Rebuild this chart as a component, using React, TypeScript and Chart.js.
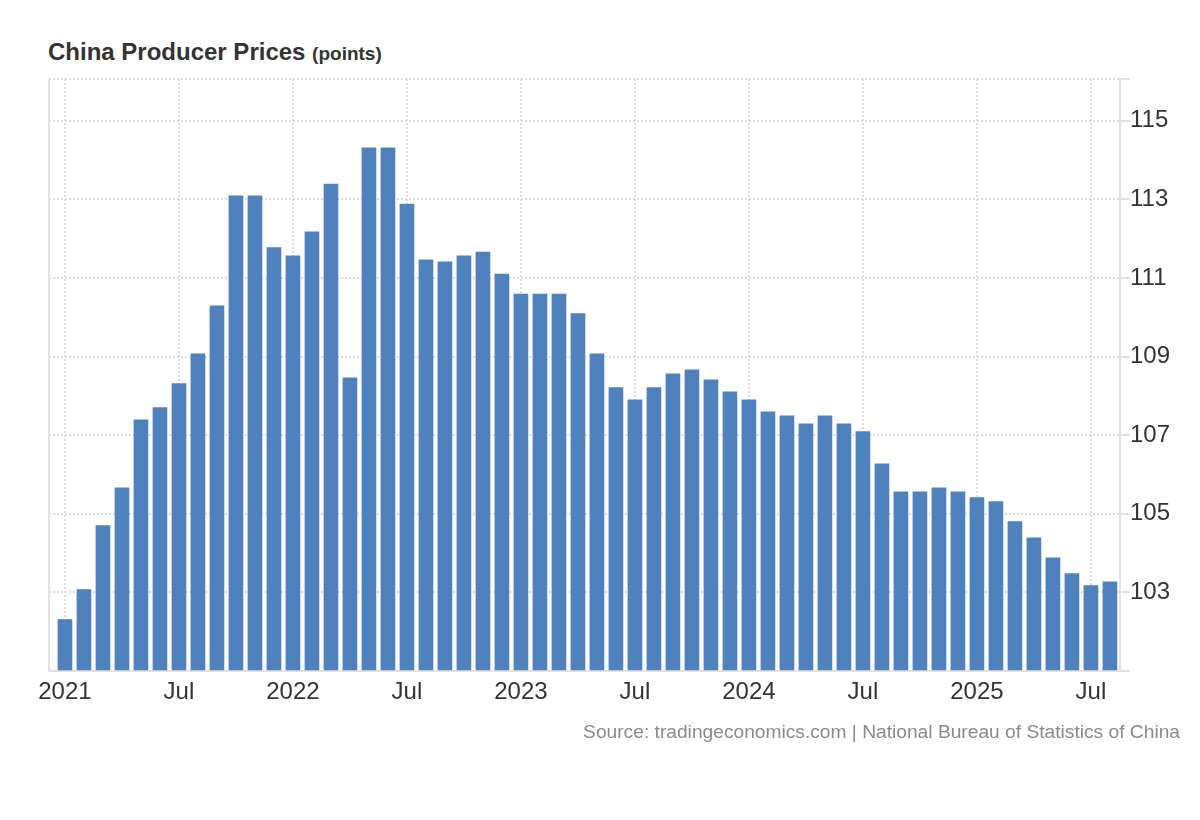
import React, { useEffect, useRef } from 'react';
import { Chart, registerables } from 'chart.js';

Chart.register(...registerables);

const months = [
  'Jan 2021', 'Feb 2021', 'Mar 2021', 'Apr 2021', 'May 2021', 'Jun 2021',
  'Jul 2021', 'Aug 2021', 'Sep 2021', 'Oct 2021', 'Nov 2021', 'Dec 2021',
  'Jan 2022', 'Feb 2022', 'Mar 2022', 'Apr 2022', 'May 2022', 'Jun 2022',
  'Jul 2022', 'Aug 2022', 'Sep 2022', 'Oct 2022', 'Nov 2022', 'Dec 2022',
  'Jan 2023', 'Feb 2023', 'Mar 2023', 'Apr 2023', 'May 2023', 'Jun 2023',
  'Jul 2023', 'Aug 2023', 'Sep 2023', 'Oct 2023', 'Nov 2023', 'Dec 2023',
  'Jan 2024', 'Feb 2024', 'Mar 2024', 'Apr 2024', 'May 2024', 'Jun 2024',
  'Jul 2024', 'Aug 2024', 'Sep 2024', 'Oct 2024', 'Nov 2024', 'Dec 2024',
  'Jan 2025', 'Feb 2025', 'Mar 2025', 'Apr 2025', 'May 2025', 'Jun 2025',
  'Jul 2025', 'Aug 2025',
];

const ppiValues = [
  102.31, 103.07, 104.70, 105.66, 107.39, 107.70,
  108.31, 109.07, 110.29, 113.09, 113.09, 111.77,
  111.56, 112.17, 113.39, 108.46, 114.31, 114.31,
  112.88, 111.46, 111.41, 111.56, 111.66, 111.10,
  110.59, 110.59, 110.59, 110.09, 109.07, 108.21,
  107.90, 108.21, 108.56, 108.66, 108.41, 108.10,
  107.90, 107.59, 107.49, 107.29, 107.49, 107.29,
  107.09, 106.27, 105.56, 105.56, 105.66, 105.56,
  105.41, 105.31, 104.80, 104.39, 103.88, 103.48,
  103.17, 103.27,
];

const yTickLabels = [103, 105, 107, 109, 111, 113, 115];
const yMin = 101;
const yMax = 116.06;

const titleText = 'China Producer Prices';
const unitText = '(points)';
const sourceText = 'Source: tradingeconomics.com | National Bureau of Statistics of China';

const FONT = "'Liberation Sans', Arial, Helvetica, sans-serif";
const GRID = '#dedede';
const AXIS = '#e2e2e2';

export default function App() {
  const canvasRef = useRef<HTMLCanvasElement | null>(null);

  useEffect(() => {
    const canvas = canvasRef.current;
    if (!canvas) return;

    const xTickIndices = months
      .map((m, i) => i)
      .filter((i) => months[i].startsWith('Jan') || months[i].startsWith('Jul'));
    const xLabelFor = (v: number) => {
      const m = months[v];
      if (!m) return '';
      return m.startsWith('Jan') ? m.split(' ')[1] : m.split(' ')[0];
    };

    const leftBorder = {
      id: 'leftBorder',
      afterDatasetsDraw(chart: any) {
        const { ctx, chartArea } = chart;
        ctx.save();
        ctx.strokeStyle = AXIS;
        ctx.lineWidth = 2;
        ctx.beginPath();
        ctx.moveTo(chartArea.left, chartArea.top);
        ctx.lineTo(chartArea.left, chartArea.bottom);
        ctx.stroke();
        ctx.restore();
      },
    };

    const chart = new Chart(canvas, {
      type: 'bar',
      data: {
        datasets: [
          {
            label: 'China Producer Prices',
            data: ppiValues.map((v, i) => ({ x: i, y: v })),
            backgroundColor: '#4F81BD',
            borderWidth: 0,
            barThickness: 14,
            base: yMin,
          } as any,
        ],
      },
      options: {
        animation: false,
        responsive: false,
        maintainAspectRatio: false,
        layout: { padding: { left: 49, right: 0, top: 79, bottom: 89 } },
        plugins: {
          legend: { display: false },
          title: { display: false },
          tooltip: { enabled: false },
        },
        scales: {
          x: {
            type: 'linear',
            min: -0.84,
            max: 55.53,
            offset: false,
            afterBuildTicks: (scale: any) => {
              scale.ticks = xTickIndices.map((v) => ({ value: v }));
            },
            afterFit: (scale: any) => {
              scale.height = 60;
            },
            grid: {
              display: true,
              offset: false,
              color: GRID,
              lineWidth: 2,
              drawTicks: false,
            },
            border: { display: true, color: AXIS, width: 2, dash: [2, 2] },
            ticks: {
              autoSkip: false,
              maxRotation: 0,
              padding: 7,
              color: '#333333',
              font: { family: FONT, size: 24 },
              callback: (value: any) => xLabelFor(Number(value)),
            },
          } as any,
          y: {
            type: 'linear',
            position: 'right',
            min: yMin,
            max: yMax,
            afterBuildTicks: (scale: any) => {
              scale.ticks = [yMin, ...yTickLabels, yMax].map((v) => ({ value: v }));
            },
            afterFit: (scale: any) => {
              scale.width = 80;
            },
            grid: {
              display: true,
              color: GRID,
              lineWidth: 2,
              drawTicks: true,
              tickLength: 10,
              tickColor: AXIS,
              tickWidth: 2,
              tickBorderDash: [],
            },
            border: { display: true, color: AXIS, width: 2, dash: [2, 2] },
            ticks: {
              autoSkip: false,
              padding: 0,
              color: '#333333',
              font: { family: FONT, size: 24 },
              callback: (value: any) =>
                yTickLabels.includes(Number(value)) ? String(value) : '',
            },
          } as any,
        },
      },
      plugins: [leftBorder],
    });

    return () => {
      chart.destroy();
    };
  }, []);

  return (
    <div
      style={{
        position: 'fixed',
        left: 0,
        top: 0,
        width: 1200,
        height: 820,
        background: '#ffffff',
        overflow: 'hidden',
      }}
    >
      <div
        style={{
          position: 'absolute',
          left: 48,
          top: 40,
          whiteSpace: 'nowrap',
          fontFamily: FONT,
          fontWeight: 'bold',
          fontSize: 24,
          lineHeight: 1,
          color: '#333333',
        }}
      >
        {titleText} <span style={{ fontSize: 19 }}>{unitText}</span>
      </div>
      <canvas
        ref={canvasRef}
        width={1200}
        height={820}
        style={{ position: 'absolute', left: 0, top: 0, width: 1200, height: 820 }}
      />
      <div
        style={{
          position: 'absolute',
          left: 0,
          top: 722,
          width: 1180,
          textAlign: 'right',
          whiteSpace: 'nowrap',
          fontFamily: FONT,
          fontSize: 19.2,
          lineHeight: 1,
          color: '#8a8a8a',
        }}
      >
        {sourceText}
      </div>
    </div>
  );
}
